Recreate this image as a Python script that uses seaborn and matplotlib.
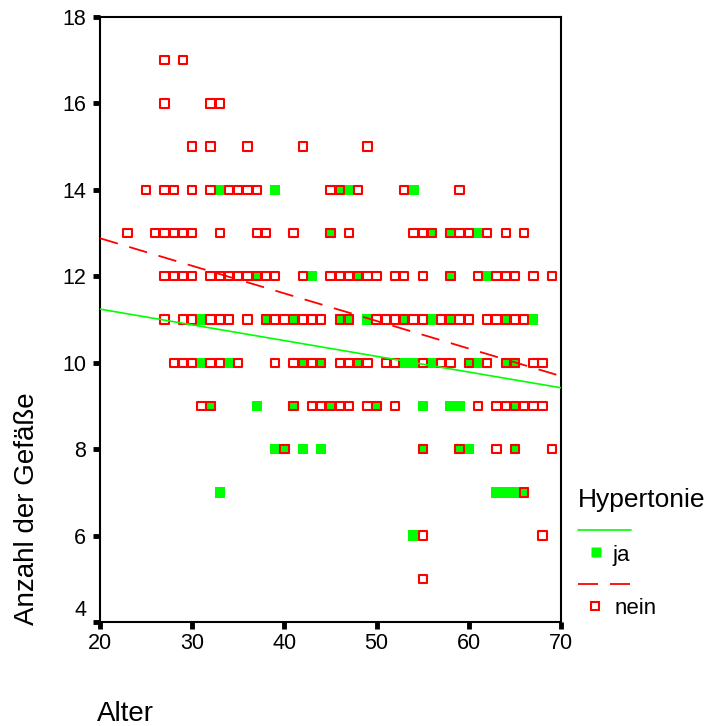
import matplotlib
matplotlib.use("Agg")
import matplotlib.pyplot as plt
import matplotlib.transforms as mtransforms
from matplotlib.lines import Line2D
import pandas as pd
import seaborn as sns

# ---------------- data ----------------
# Hypertonie = "nein" (red hollow squares)
nein_alter = (
    [27, 29]                                                     # 17
    + [27, 32, 33]                                               # 16
    + [30, 32, 36, 42, 49]                                       # 15
    + [25, 27, 28, 30, 32, 34, 35, 36, 37, 45, 46, 48, 53, 59]   # 14
    + [23, 26, 27, 28, 29, 30, 33, 37, 38, 41, 45, 47, 54, 55, 56, 58, 59, 60, 62, 64, 66]  # 13
    + [27, 28, 29, 30, 32, 33, 34, 35, 36, 37, 38, 39, 42, 45, 46, 47, 48, 49, 50, 52, 53,
       55, 58, 61, 63, 64, 65, 67, 69]                           # 12
    + [27, 29, 30, 32, 33, 34, 36, 38, 39, 40, 41, 42, 43, 44, 46, 47, 50, 51, 52, 53, 54,
       55, 57, 58, 59, 60, 62, 63, 64, 65, 66]                   # 11
    + [28, 29, 30, 32, 33, 35, 39, 41, 42, 43, 44, 46, 47, 48, 49, 51, 52, 55, 57, 58, 60,
       62, 64, 65, 67, 68]                                       # 10
    + [31, 32, 41, 43, 44, 45, 46, 47, 49, 50, 52, 61, 63, 64, 65, 66, 67, 68]  # 9
    + [40, 55, 59, 63, 65, 69]                                   # 8
    + [66]                                                       # 7
    + [55, 68]                                                   # 6
    + [55]                                                       # 5
)
nein_anzahl = (
    [17] * 2 + [16] * 3 + [15] * 5 + [14] * 14 + [13] * 21 + [12] * 29 + [11] * 31
    + [10] * 26 + [9] * 18 + [8] * 6 + [7] * 1 + [6] * 2 + [5] * 1
)

# Hypertonie = "ja" (green filled squares)
ja_alter = (
    [33, 39, 46, 47, 54]                                         # 14
    + [45, 56, 58, 61]                                           # 13
    + [37, 43, 48, 58, 62]                                       # 12
    + [31, 38, 41, 46, 47, 49, 53, 56, 58, 64, 67]               # 11
    + [31, 34, 42, 44, 48, 53, 54, 56, 60, 61, 64, 65]           # 10
    + [32, 37, 41, 45, 50, 55, 58, 59, 65]                       # 9
    + [39, 40, 42, 44, 55, 59, 60, 65]                           # 8
    + [33, 63, 64, 65, 66]                                       # 7
    + [54]                                                       # 6
)
ja_anzahl = (
    [14] * 5 + [13] * 4 + [12] * 5 + [11] * 11 + [10] * 12 + [9] * 9 + [8] * 8
    + [7] * 5 + [6] * 1
)

# fit lines
fit_x = [20, 70]
fit_ja = [11.24, 9.42]
fit_nein = [12.88, 9.69]

x_ticks = [20, 30, 40, 50, 60, 70]
y_ticks = [4, 6, 8, 10, 12, 14, 16, 18]

GREEN = "#00FF00"
RED = "#FF0000"

# ---------------- figure ----------------
sns.set_style("white")
plt.rcParams["font.family"] = ["Liberation Sans", "DejaVu Sans"]
plt.rcParams["text.color"] = "black"
plt.rcParams["axes.labelcolor"] = "black"
plt.rcParams["xtick.color"] = "black"
plt.rcParams["ytick.color"] = "black"

W, H = 714, 726
fig = plt.figure(figsize=(W / 100, H / 100), dpi=100)
ax = fig.add_axes([100 / W, 1 - 622 / H, 461 / W, 605 / H])

df_ja = pd.DataFrame({"Alter": ja_alter, "Anzahl": ja_anzahl})
df_nein = pd.DataFrame({"Alter": nein_alter, "Anzahl": nein_anzahl})

sns.scatterplot(data=df_ja, x="Alter", y="Anzahl", marker="s", s=55,
                color=GREEN, edgecolor="none", linewidth=0, ax=ax, zorder=2)
sns.scatterplot(data=df_nein, x="Alter", y="Anzahl", marker="s", s=36,
                facecolor="none", edgecolor=RED, linewidth=1.5, ax=ax, zorder=3)
ax.collections[-1].set_facecolor("none")

sns.lineplot(x=fit_x, y=fit_ja, color=GREEN, lw=1.2, ax=ax, zorder=4, legend=False)
sns.lineplot(x=fit_x, y=fit_nein, color=RED, lw=1.3, ax=ax, zorder=4, legend=False)
ax.lines[-1].set_linestyle((0, (10.3, 6.6)))

ax.set_xlim(20, 70)
ax.set_ylim(4, 18)
ax.set_xticks(x_ticks)
ax.set_yticks(y_ticks)
ax.set_xticklabels([str(v) for v in x_ticks])
ax.set_yticklabels([str(v) for v in y_ticks])
ax.tick_params(axis="both", which="major", direction="out", length=5, width=3.5,
               colors="black", labelsize=15.5, bottom=True, left=True)
ax.tick_params(axis="x", pad=3)
ax.tick_params(axis="y", pad=5)
for sp in ax.spines.values():
    sp.set_visible(True)
    sp.set_color("black")
    sp.set_linewidth(1.5)

# shift the "4" label up (as in the reference)
lbl4 = ax.get_yticklabels()[0]
lbl4.set_transform(lbl4.get_transform()
                   + mtransforms.ScaledTranslation(0, 14 / 100, fig.dpi_scale_trans))

ax.set_xlabel("Alter", fontsize=20, ha="left", va="baseline", color="black")
ax.xaxis.set_label_coords((97 - 100) / 461, (622 - 721) / 605)
ax.set_ylabel("Anzahl der Gefäße", fontsize=20, ha="left", va="center",
              rotation=90, rotation_mode="anchor", color="black")
ax.yaxis.set_label_coords((27 - 100) / 461, (622 - 625) / 605)

# ---------------- legend (drawn by hand, SPSS style) ----------------
def fx(px):
    return px / W

def fy(py):
    return 1 - py / H

fig.text(fx(578), fy(507), "Hypertonie", fontsize=19, ha="left", va="baseline", color="black")
fig.add_artist(Line2D([fx(578), fx(631)], [fy(530), fy(530)], color=GREEN, lw=1.2,
                      transform=fig.transFigure))
fig.add_artist(Line2D([fx(595.5)], [fy(552)], marker="s", ms=7.4, mfc=GREEN, mec="none",
                      ls="none", transform=fig.transFigure))
fig.text(fx(613), fy(561), "ja", fontsize=16, ha="left", va="baseline", color="black")
fig.add_artist(Line2D([fx(578), fx(631)], [fy(584), fy(584)], color=RED, lw=1.3,
                      dashes=(11.1, 6.6), transform=fig.transFigure))
fig.add_artist(Line2D([fx(595)], [fy(606)], marker="s", ms=6.0, mfc="none", mec=RED,
                      mew=1.5, ls="none", transform=fig.transFigure))
fig.text(fx(615), fy(614), "nein", fontsize=16, ha="left", va="baseline", color="black")

fig.savefig("out.png", dpi=100, facecolor="white")
